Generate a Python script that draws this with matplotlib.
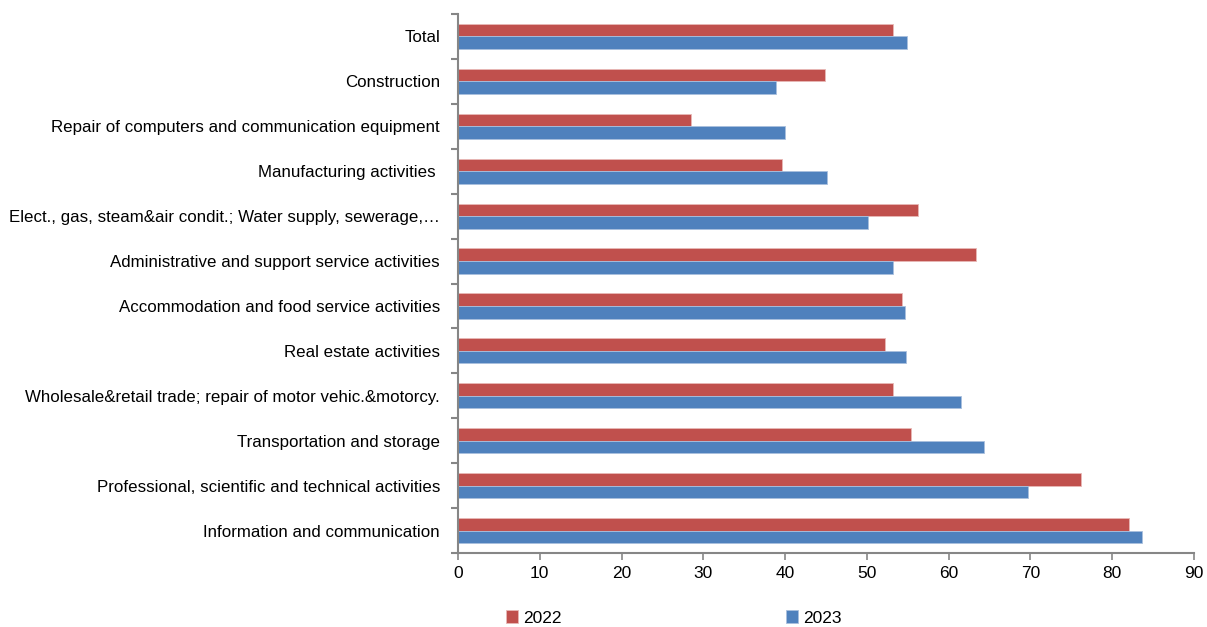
import matplotlib
matplotlib.use("Agg")
import matplotlib.pyplot as plt
import numpy as np

plt.rcParams['font.family'] = ['Liberation Sans Narrow', 'Liberation Sans', 'DejaVu Sans']

# categories listed top to bottom as in the chart
categories = [
    "Total",
    "Construction",
    "Repair of computers and communication equipment",
    "Manufacturing activities ",
    "Elect., gas, steam&air condit.; Water supply, sewerage,…",
    "Administrative and support service activities",
    "Accommodation and food service activities",
    "Real estate activities",
    "Wholesale&retail trade; repair of motor vehic.&motorcy.",
    "Transportation and storage",
    "Professional, scientific and technical activities",
    "Information and communication",
]
values_2022 = [53.2, 44.9, 28.5, 39.6, 56.2, 63.4, 54.3, 52.2, 53.2, 55.4, 76.2, 82.0]
values_2023 = [54.9, 38.9, 40.0, 45.1, 50.1, 53.2, 54.7, 54.8, 61.5, 64.3, 69.7, 83.6]
xticks = [0, 10, 20, 30, 40, 50, 60, 70, 80, 90]

RED = "#C0504D"
BLUE = "#4F81BD"


def plot(ax):
    y = np.arange(len(categories))
    h = 0.28
    ax.barh(y - h / 2, values_2022, height=h, color=RED,
            edgecolor="#E8B8B6", linewidth=0.6, label="2022")
    ax.barh(y + h / 2, values_2023, height=h, color=BLUE,
            edgecolor="#A9C0DE", linewidth=0.6, label="2023")

    ax.set_xlim(0, 90)
    ax.set_ylim(len(categories) - 0.5, -0.5)
    ax.set_xticks(xticks)
    ax.set_xticklabels([str(t) for t in xticks], fontsize=12.5)

    ax.set_yticks(y)
    ax.set_yticklabels(categories, fontsize=12.2)
    ax.set_yticks(np.arange(len(categories) + 1) - 0.5, minor=True)
    ax.tick_params(axis="y", which="major", length=0, pad=13)
    ax.tick_params(axis="y", which="minor", length=5, color="#868686", width=1.5)
    ax.tick_params(axis="x", length=5, color="#868686", width=1.2, pad=4)

    for s in ["top", "right"]:
        ax.spines[s].set_visible(False)
    for s in ["left", "bottom"]:
        ax.spines[s].set_color("#868686")
        ax.spines[s].set_linewidth(1.5)


def main():
    fig = plt.figure(figsize=(12.07, 6.27), dpi=100)
    ax = fig.add_axes([458 / 1207, 1 - 553 / 627, (1194 - 458) / 1207, (553 - 14) / 627])
    plot(ax)
    fig.legend(loc="center", bbox_to_anchor=(674 / 1207, 1 - 618 / 627), ncol=2,
               frameon=False, fontsize=12.5, handlelength=0.7, handleheight=0.7,
               handletextpad=0.3, columnspacing=12.9)
    fig.savefig("out.png", dpi=100)


if __name__ == "__main__":
    main()
